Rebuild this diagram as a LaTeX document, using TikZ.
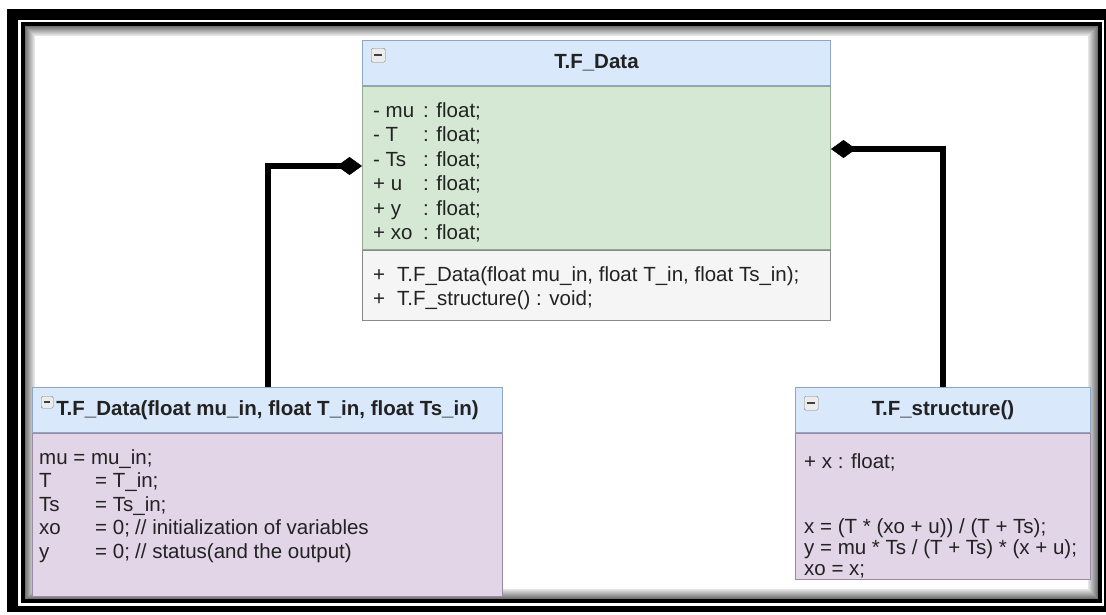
\documentclass[tikz,border=0pt]{standalone}
\usepackage{fontspec}
\setmainfont{Liberation Sans}
\usepackage{xcolor}
\usepackage{tikz}
\usetikzlibrary{positioning,arrows.meta}

\definecolor{headblue}{HTML}{DAE8FC}
\definecolor{headline}{HTML}{8EA6C6}
\definecolor{attrgreen}{HTML}{D5E8D4}
\definecolor{attrline}{HTML}{93A891}
\definecolor{opgray}{HTML}{F5F5F5}
\definecolor{opline}{HTML}{8A8A8A}
\definecolor{bodypurple}{HTML}{E1D5E7}
\definecolor{bodyline}{HTML}{9A8AA4}
\definecolor{inktext}{HTML}{222222}

\begin{document}
\begin{tikzpicture}[
  x=1pt, y=-1pt,
  font=\fontsize{20.5}{24.5}\selectfont,
  box/.style={draw, line width=1pt, inner sep=0pt, anchor=north west},
  head/.style={box, draw=headline, fill=headblue, minimum height=45pt, text=inktext, font=\fontsize{20.5}{24.5}\selectfont\bfseries},
  attr/.style={box, draw=attrline, fill=attrgreen},
  ops/.style={box, draw=opline, fill=opgray},
  body/.style={box, draw=bodyline, fill=bodypurple},
  txt/.style={inner sep=0pt, align=left, anchor=north west, text=inktext},
  fold/.style={draw=gray, fill=gray!15, rounded corners=1.5pt, minimum size=14pt, inner sep=0pt, anchor=north west,
    path picture={\draw[gray!50!black, line width=1.8pt] ([xshift=3pt]path picture bounding box.west) -- ([xshift=-3pt]path picture bounding box.east);}},
  comp/.style={line width=6pt, -{Diamond[length=25pt, width=18pt, line width=0.5pt]}}
]
\useasboundingbox (0,0) rectangle (1106,614);

\fill[black] (7,9) rectangle (1106,612);
\fill[white] (18,20) rectangle (1104,606);
\fill[black] (21,22) rectangle (1102,603);
\fill[white] (25,26) rectangle (1098,599);
\foreach \i [evaluate=\i as \c using int(55-5*\i)] in {0,...,9}
  \draw[black!\c, line width=1pt] (25.5+\i,26.5+\i) rectangle (1097.5-\i,598.5-\i);

\node[head, minimum width=468pt] (mhead) at (362,40) {T.F\_Data};
\node[attr, minimum width=468pt, minimum height=163pt, below=0pt of mhead] (mattr) {};
\node[ops, minimum width=468pt, minimum height=70pt, below=0pt of mattr] (mops) {};
\node[fold, below right=8pt and 9pt of mhead.north west] (mfold) {};

\node[head, minimum width=470pt] (lhead) at (32,387) {T.F\_Data(float mu\_in, float T\_in, float Ts\_in)};
\node[body, minimum width=470pt, minimum height=163pt, below=0pt of lhead] (lbody) {};
\node[fold, minimum size=12pt, below right=9pt and 9pt of lhead.north west] (lfold) {};

\node[head, minimum width=295pt] (rhead) at (795,387) {T.F\_structure()};
\node[body, minimum width=295pt, minimum height=146pt, below=0pt of rhead] (rbody) {};
\node[fold, below right=9pt and 9pt of rhead.north west] (rfold) {};

\draw[comp] (lhead.north) |- ([yshift=-80pt]mattr.north west);
\draw[comp] (rhead.north) |- ([yshift=-63pt]mattr.north east);

\node[txt, below right=16pt and 11pt of mattr.north west] (mattrtxt) {\makebox[50pt][l]{- mu}: float;\\
  \makebox[50pt][l]{- T}: float;\\
  \makebox[50pt][l]{- Ts}: float;\\
  \makebox[50pt][l]{+ u}: float;\\
  \makebox[50pt][l]{+ y}: float;\\
  \makebox[50pt][l]{+ xo}: float;};
\node[txt, below right=16pt and 11pt of mops.north west] (mopstxt) {\makebox[24pt][l]{+}T.F\_Data(float mu\_in, float T\_in, float Ts\_in);\\
  \makebox[24pt][l]{+}T.F\_structure() : void;};
\node[txt, font=\fontsize{20.5}{23.5}\selectfont, below right=16pt and 7pt of lbody.north west] (lbodytxt) {mu = mu\_in;\\
  \makebox[56pt][l]{T}= T\_in;\\
  \makebox[56pt][l]{Ts}= Ts\_in;\\
  \makebox[56pt][l]{xo}\makebox[40pt][l]{= 0;}// initialization of variables\\
  \makebox[56pt][l]{y}\makebox[40pt][l]{= 0;}// status(and the output)};
\node[txt, font=\fontsize{20.5}{21}\selectfont, below right=20pt and 9pt of rbody.north west] (rbodytxt) {+ x : float;\\[44pt]
  x = (T * (xo + u)) / (T + Ts);\\
  y = mu * Ts / (T + Ts) * (x + u);\\
  xo = x;};
\end{tikzpicture}
\end{document}
